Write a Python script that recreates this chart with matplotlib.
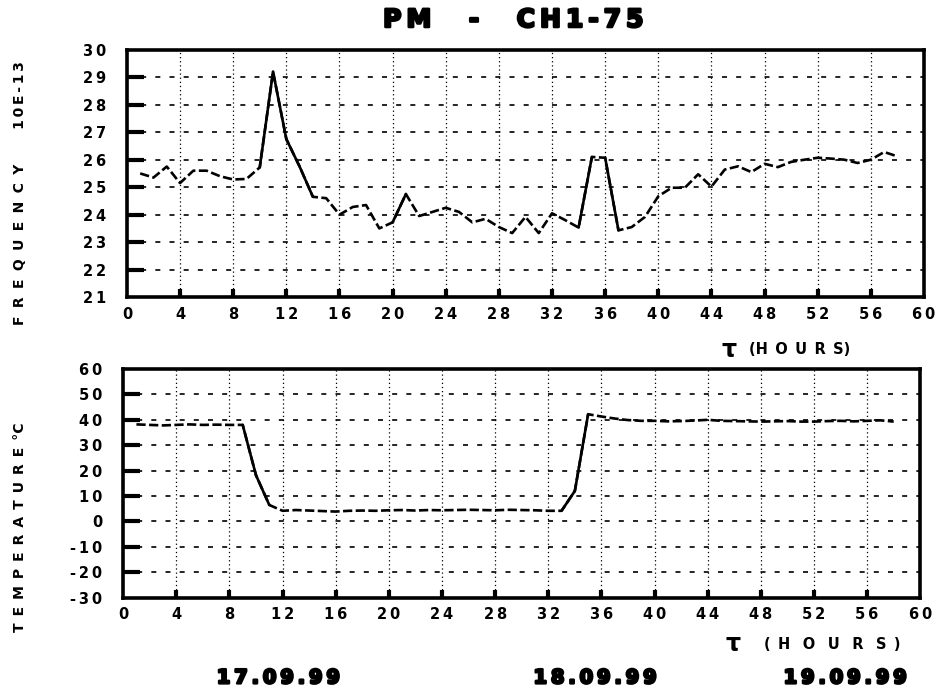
import numpy as np
import matplotlib.pyplot as plt
import matplotlib.patheffects as pe

hours = list(range(1, 59))

frequency = [25.5, 25.35, 25.75, 25.15, 25.6, 25.6, 25.4, 25.28, 25.3, 25.72,
             29.2, 26.75, 25.75, 24.65, 24.6, 24.0, 24.28, 24.35, 23.5, 23.72,
             24.75, 23.95, 24.1, 24.25, 24.1, 23.72, 23.85, 23.55, 23.33, 23.92,
             23.33, 24.05, 23.8, 23.53, 26.1, 26.07, 23.43, 23.55, 23.92, 24.67,
             24.98, 24.98, 25.47, 25.02, 25.64, 25.76, 25.55, 25.85, 25.73, 25.92,
             26.0, 26.07, 26.04, 26.0, 25.88, 26.0, 26.28, 26.12]

temperature = [38.2, 38.0, 37.8, 38.0, 38.2, 38.0, 38.1, 38.0, 38.0, 18.2,
               6.5, 4.2, 4.5, 4.3, 4.1, 3.9, 4.2, 4.3, 4.2, 4.4,
               4.5, 4.3, 4.5, 4.4, 4.5, 4.6, 4.5, 4.4, 4.6, 4.5,
               4.4, 4.2, 4.2, 12.0, 42.2, 41.3, 40.5, 39.9, 39.6, 39.6,
               39.4, 39.5, 39.7, 40.0, 39.6, 39.5, 39.4, 39.3, 39.4, 39.5,
               39.3, 39.3, 39.5, 39.6, 39.4, 39.6, 39.8, 39.3]

x_ticks = list(range(0, 61, 4))
freq_ticks = list(range(21, 31))
temp_ticks = list(range(-30, 61, 10))
dates = ['17.09.99', '18.09.99', '19.09.99']

THIN = '\u2009'
EN = '\u2002'


def spaced(s, sep=THIN):
    return sep.join(s)


def draw_series(ax, x, y, steep):
    # plotter look: dashed on flat parts, solid where the pen moves fast
    ax.plot(x, y, color='black', lw=1.9, dashes=(3.5, 1.3))
    for i in range(len(x) - 1):
        if abs(y[i + 1] - y[i]) > steep:
            ax.plot(x[i:i + 2], y[i:i + 2], color='black', lw=1.9,
                    solid_capstyle='round')


def style_axes(ax, yticks, ylim):
    ax.set_xlim(0, 60)
    ax.set_ylim(*ylim)
    ax.set_xticks(x_ticks)
    ax.set_xticklabels([spaced(str(t)) for t in x_ticks], fontsize=10.5,
                       fontweight='bold')
    ax.set_yticks(yticks)
    ax.set_yticklabels([spaced(str(t)) for t in yticks], fontsize=10.5,
                       fontweight='bold')
    for sp in ax.spines.values():
        sp.set_linewidth(2.6)
    ax.tick_params(axis='x', direction='in', length=6, width=3, pad=7)
    ax.tick_params(axis='y', direction='in', length=12, width=3, pad=15)
    for t in ax.xaxis.get_major_ticks() + ax.yaxis.get_major_ticks():
        t.tick2line.set_visible(False)
    # no tick marks on the frame corners
    for ticks in (ax.xaxis.get_major_ticks(), ax.yaxis.get_major_ticks()):
        ticks[0].tick1line.set_visible(False)
        ticks[-1].tick1line.set_visible(False)
    ax.grid(axis='x', color='black', lw=0.9, dashes=(1, 2.3))
    ax.grid(axis='y', color='black', lw=1.2, dashes=(3, 5.5))


fig = plt.figure(figsize=(9.4, 6.91), dpi=100)
ax1 = fig.add_axes([0.135, 0.570, 0.848, 0.358])
ax2 = fig.add_axes([0.131, 0.135, 0.848, 0.331])

draw_series(ax1, hours, frequency, 0.9)
style_axes(ax1, freq_ticks, (21, 30))

draw_series(ax2, hours, temperature, 7)
style_axes(ax2, temp_ticks, (-30, 60))

heavy = [pe.withStroke(linewidth=1.8, foreground='black')]

fig.text(0.546, 0.971, spaced('PM') + EN * 3 + '-' + EN * 3 + spaced('CH1-75'),
         ha='center', va='center', fontsize=18, fontweight='bold',
         path_effects=heavy)

fig.text(0.021, 0.72, spaced('FREQUENCY', EN + '\u200a') + '\u2003\u2003\u2002'
         + spaced('10E-13'),
         rotation=90, ha='center', va='center', fontsize=10, fontweight='bold')
fig.text(0.021, 0.237, spaced('TEMPERATURE', EN) + EN + '°C', rotation=90,
         ha='center', va='center', fontsize=10, fontweight='bold')

fig.text(0.768, 0.494, 'τ', ha='left', va='center', fontsize=17, fontweight='bold')
fig.text(0.797, 0.494, '(' + spaced('HOURS', EN) + ')', ha='left', va='center',
         fontsize=10.5, fontweight='bold')
fig.text(0.772, 0.068, 'τ', ha='left', va='center', fontsize=17, fontweight='bold')
fig.text(0.813, 0.068, '(' + EN + spaced('HOURS', EN + ' ') + EN + ')', ha='left',
         va='center', fontsize=10.5, fontweight='bold')

for xpos, d in zip([0.296, 0.633, 0.899], dates):
    fig.text(xpos, 0.019, spaced(d), ha='center', va='center', fontsize=14,
             fontweight='bold', path_effects=heavy)

fig.savefig('out.png', dpi=100)
